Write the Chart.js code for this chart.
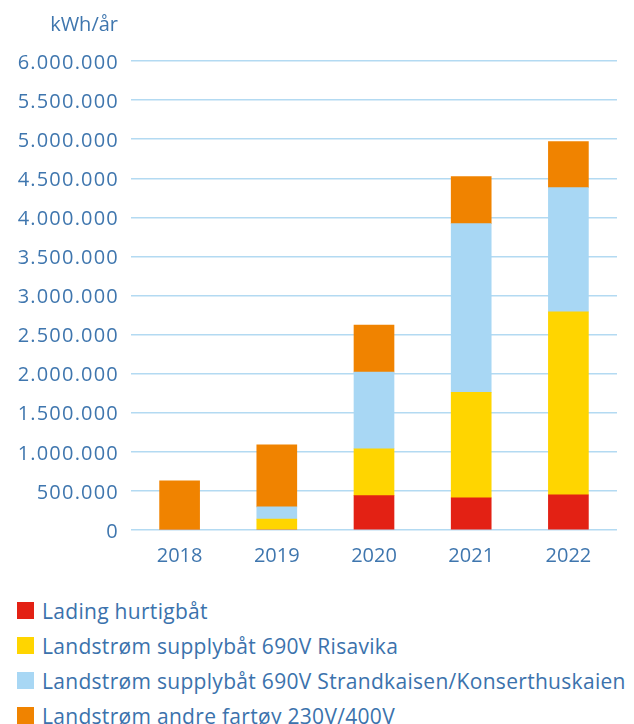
<!DOCTYPE html>
<html lang="no">
<head>
<meta charset="utf-8">
<script src="https://cdn.jsdelivr.net/npm/chart.js@4.4.1/dist/chart.umd.min.js"></script>
<style>
    body { margin: 0; background: #fff; font-family: "Open Sans", sans-serif; }
    .wrap { position: relative; width: 634px; height: 582px; }
    .legend { padding-left: 17px; margin-top: 11px; }
    .legend-item { display: flex; align-items: center; height: 35px; font-size: 21px; letter-spacing: 0.3px; color: #3b72ac; white-space: nowrap; }
    .legend-box { width: 17px; height: 17px; margin-right: 8px; flex: none; }
</style>
</head>
<body>
<div class="wrap"><canvas id="energyChart"></canvas></div>
<div class="legend" id="legend"></div>
<script>
const years = ['2018', '2019', '2020', '2021', '2022'];
const seriesNames = [
    'Lading hurtigbåt',
    'Landstrøm supplybåt 690V Risavika',
    'Landstrøm supplybåt 690V Strandkaisen/Konserthuskaien',
    'Landstrøm andre fartøy 230V/400V'
];
const ladingHurtigbat = [0, 0, 440000, 410000, 450000];
const supplyRisavika = [0, 140000, 600000, 1350000, 2340000];
const supplyStrandkaisen = [0, 155000, 980000, 2160000, 1590000];
const andreFartoy = [630000, 795000, 600000, 600000, 590000];
const seriesColors = ['#e32114', '#ffd500', '#a8d7f4', '#f08300'];
const unitLabel = 'kWh/år';

const textColor = '#3f76ae';

function formatNo(v) {
    return String(v).replace(/\B(?=(\d{3})+(?!\d))/g, '.');
}

// unit text above the y axis + wider spacing on the y tick labels
const unitTitle = {
    id: 'unitTitle',
    afterLayout(chart) {
        const y = chart.scales.y;
        if (y && !y._spaced) {
            const orig = y.drawLabels;
            y.drawLabels = function (area) {
                this.ctx.save();
                this.ctx.letterSpacing = '1.2px';
                orig.call(this, area);
                this.ctx.restore();
            };
            y._spaced = true;
        }
    },
    afterDraw(chart) {
        const ctx = chart.ctx;
        ctx.save();
        ctx.font = '20px "Open Sans"';
        ctx.fillStyle = textColor;
        ctx.textAlign = 'right';
        ctx.textBaseline = 'middle';
        ctx.fillText(unitLabel, 118, 25);
        ctx.restore();
    }
};

const allData = [ladingHurtigbat, supplyRisavika, supplyStrandkaisen, andreFartoy];

new Chart(document.getElementById('energyChart'), {
    type: 'bar',
    data: {
        labels: years,
        datasets: allData.map(function (d, i) {
            return {
                label: seriesNames[i],
                data: d,
                backgroundColor: seriesColors[i],
                borderWidth: 0,
                barThickness: 40
            };
        })
    },
    options: {
        responsive: true,
        maintainAspectRatio: false,
        animation: false,
        layout: { padding: { top: 61, right: 17, bottom: 0, left: 0 } },
        plugins: {
            legend: { display: false },
            tooltip: { enabled: false }
        },
        scales: {
            x: {
                stacked: true,
                grid: { display: false, drawTicks: false },
                border: { display: false },
                ticks: {
                    color: textColor,
                    font: { family: 'Open Sans', size: 20 },
                    padding: 14
                }
            },
            y: {
                stacked: true,
                min: 0,
                max: 6000000,
                afterFit: function (scale) { scale.width = 131; },
                grid: { color: '#b3daf2', lineWidth: 1.5, drawTicks: false },
                border: { display: false },
                ticks: {
                    stepSize: 500000,
                    color: textColor,
                    font: { family: 'Open Sans', size: 20 },
                    padding: 12,
                    labelOffset: 2,
                    callback: function (v) { return formatNo(v); }
                }
            }
        }
    },
    plugins: [unitTitle]
});

const legendEl = document.getElementById('legend');
seriesNames.forEach(function (name, i) {
    const item = document.createElement('div');
    item.className = 'legend-item';
    const box = document.createElement('span');
    box.className = 'legend-box';
    box.style.background = seriesColors[i];
    const txt = document.createElement('span');
    txt.textContent = name;
    item.appendChild(box);
    item.appendChild(txt);
    legendEl.appendChild(item);
});
</script>
</body>
</html>
